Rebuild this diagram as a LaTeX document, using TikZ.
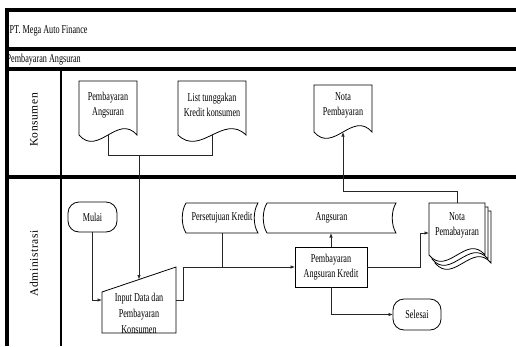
\documentclass[tikz,border=0pt]{standalone}
\usepackage{fontspec}
\setmainfont{Liberation Serif}[FakeStretch=0.68]
\newfontfamily\lanefont{Liberation Serif}[LetterSpace=5]
\usetikzlibrary{arrows.meta,calc}
\newcommand\mydocshape[2][]{\path[outline,#1] (#2.south west) -- (#2.north west) -- (#2.north east) -- (#2.south east) .. controls ($(#2.south east)!0.33!(#2.south west)+(0,-22)$) and ($(#2.south west)!0.33!(#2.south east)+(0,22)$) .. (#2.south west) -- cycle;}
\newcommand\mystored[1]{\path[outline] (#1.north west) -- (#1.north east) .. controls ($(#1.north east)+(-5,8)$) and ($(#1.south east)+(-5,-8)$) .. (#1.south east) -- (#1.south west) .. controls ($(#1.south west)+(-5,-8)$) and ($(#1.north west)+(-5,8)$) .. (#1.north west) -- cycle;}
\tikzset{
  frameline/.style={line width=3.5pt},
  laneline/.style={line width=1.3pt},
  box/.style={inner sep=0pt, outer sep=0pt},
  outline/.style={draw=black, line width=0.8pt},
  proc/.style={box, draw=black, line width=0.8pt},
  term/.style={box, draw=black, line width=0.8pt, rounded corners=11pt},
  conn/.style={draw=black!85, line width=0.7pt},
  arr/.style={conn, -{Latex[length=4.5pt,width=3.5pt]}},
  txt/.style={align=center, inner sep=0pt},
}
\begin{document}
\begin{tikzpicture}[x=1pt, y=-1pt, font=\fontsize{12}{15}\selectfont]
\useasboundingbox (0,0) rectangle (516,346);
% header texts
\node[txt, anchor=west] (title) at (9.5,30.5) {PT. Mega Auto Finance};
\node[txt, anchor=west] (sub) at (6.5,60) {Pembayaran Angsuran};
% frame
\draw[frameline] (5.25,10) -- (516,10);
\draw[frameline] (5.25,49) -- (516,49);
\draw[frameline] (5.25,69) -- (516,69);
\draw[frameline] (5.25,177) -- (516,177);
\draw[frameline] (7,8.25) -- (7,346);
\draw[laneline] (61,69) -- (61,346);
% lane labels
\node[rotate=90, inner sep=0pt, font=\lanefont\fontsize{11.5}{12}\selectfont] (lk) at (34,120) {Konsumen};
\node[rotate=90, inner sep=0pt, font=\lanefont\fontsize{11.5}{12}\selectfont] (la) at (34,263.5) {Administrasi};
% Konsumen lane
\node[box, minimum width=58pt, minimum height=54pt] (d1) at (108,108) {};
\mydocshape{d1}
\node[txt] (d1t) at (108,105) {Pembayaran\\Angsuran};
\node[box, minimum width=68pt, minimum height=54pt] (d2) at (212,108) {};
\mydocshape{d2}
\node[txt] (d2t) at (212,105) {List tunggakan\\Kredit konsumen};
\node[box, minimum width=58pt, minimum height=47pt] (n1) at (343,108.5) {};
\mydocshape{n1}
\node[txt] (n1t) at (343,105) {Nota\\Pembayaran};
% Administrasi lane
\node[term, minimum width=49pt, minimum height=30pt] (mulai) at (92.5,217) {Mulai};
\node[box, minimum width=74pt, minimum height=66pt] (in) at (139,300) {};
\path[outline] (in.south west) -- ($(in.north west)+(0,25)$) -- (in.north east) -- (in.south east) -- cycle;
\node[txt, font=\fontsize{12}{16}\selectfont] (int) at (139,313) {Input Data dan\\Pembayaran\\Konsumen};
\coordinate (intop) at ($(in.north)+(0,12.5)$);
\node[box, minimum width=72pt, minimum height=30pt] (pk) at (222,218) {Persetujuan Kredit};
\mystored{pk}
\node[box, minimum width=129pt, minimum height=30pt] (ang) at (331.5,218) {Angsuran};
\mystored{ang}
\node[proc, minimum width=72pt, minimum height=40pt, align=center, font=\fontsize{12}{15}\selectfont] (pak) at (331,267) {Pembayaran\\Angsuran Kredit};
\node[term, minimum width=48pt, minimum height=31pt] (sel) at (417,314.5) {Selesai};
% multi-document
\node[box, minimum width=56pt, minimum height=52pt] (n2c) at (463,237) {};
\mydocshape[fill=white]{n2c}
\node[box, minimum width=56pt, minimum height=52pt] (n2b) at (460,233) {};
\mydocshape[fill=white]{n2b}
\node[box, minimum width=56pt, minimum height=52pt] (n2) at (457,229) {};
\mydocshape[fill=white]{n2}
\node[txt] (n2t) at (457,225.5) {Nota\\Pemabayaran};
% connectors
\coordinate (j1) at (139,155);
\draw[conn] (d1.south) -- ++(0,20) -| (d2.south);
\draw[arr] (j1) -- (intop);
\draw[arr] (mulai.south) |- (in.west);
\draw[arr] (in.east) -- ++(7,0) |- (pak.west);
\draw[conn] (pk.south) -- (pk.south |- pak.west);
\draw[arr] (pak.north) -- (pak.north |- ang.south);
\draw[arr] (pak.east) -- ++(53,0) |- ($(n2.west)+(0,4)$);
\draw[arr] (pak.south) |- (sel.west);
\draw[arr] (n2.north) -- ++(0,-12) -| (n1.south);
\end{tikzpicture}
\end{document}
